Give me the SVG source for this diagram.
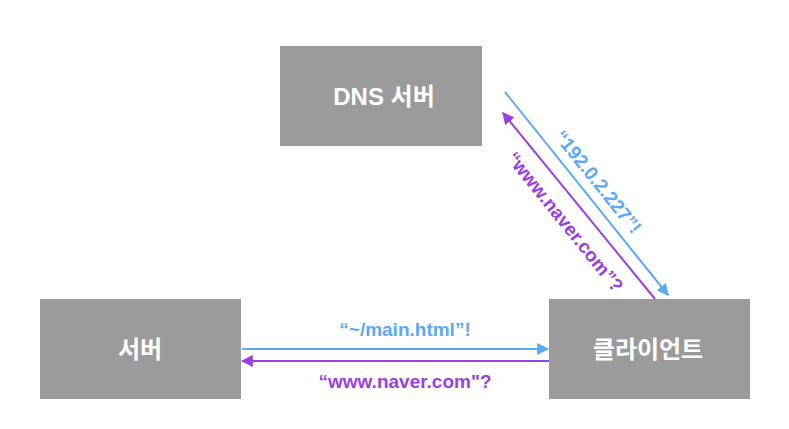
<svg xmlns="http://www.w3.org/2000/svg" width="789" height="429" viewBox="0 0 789 429">
<defs>
<style>
.box{fill:#9b9b9b}
.lbl{font-family:"Liberation Sans","Noto Sans CJK KR",sans-serif;font-weight:bold;font-size:24px;fill:#fff;text-anchor:middle}
.t{font-family:"Liberation Sans",sans-serif;font-weight:bold;font-size:19px;text-anchor:middle}
.blue{stroke:#5aa9f6;fill:none;stroke-width:2}
.purple{stroke:#9b40e0;fill:none;stroke-width:2}
</style>
<marker id="ab" viewBox="0 0 10 10" refX="9" refY="5" markerWidth="6" markerHeight="6" orient="auto" markerUnits="strokeWidth"><path d="M0,0 L10,5 L0,10 Z" fill="#5aa9f6"/></marker>
<marker id="ap" viewBox="0 0 10 10" refX="9" refY="5" markerWidth="6" markerHeight="6" orient="auto" markerUnits="strokeWidth"><path d="M0,0 L10,5 L0,10 Z" fill="#9b40e0"/></marker>
</defs>
<rect width="789" height="429" fill="#fff"/>
<g id="dns"><rect class="box" x="280" y="46" width="202" height="100"/><text class="lbl" x="384" y="105">DNS 서버</text></g>
<g id="server"><rect class="box" x="40" y="299" width="201" height="100"/><text class="lbl" x="140" y="358">서버</text></g>
<g id="client"><rect class="box" x="549" y="299" width="201" height="100"/><text class="lbl" x="648" y="358">클라이언트</text></g>
<g id="connectors">
<line class="blue" x1="505" y1="92" x2="668" y2="295" marker-end="url(#ab)"/>
<line class="purple" x1="655" y1="299" x2="503" y2="113" marker-end="url(#ap)"/>
<line class="blue" x1="242" y1="349" x2="548" y2="349" marker-end="url(#ab)"/>
<line class="purple" x1="549" y1="361" x2="242" y2="361" marker-end="url(#ap)"/>
</g>
<g id="labels">
<text class="t" fill="#5aa9f6" x="405" y="336">“~/main.html”!</text>
<text class="t" fill="#9b40e0" x="405" y="388">“www.naver.com"?</text>
<text class="t" fill="#5aa9f6" transform="translate(593,186) rotate(51.2)" x="0" y="0">“192.0.2.227”!</text>
<text class="t" fill="#9b40e0" transform="translate(560,226) rotate(51.2)" x="0" y="0">“www.naver.com”?</text>
</g>
</svg>
